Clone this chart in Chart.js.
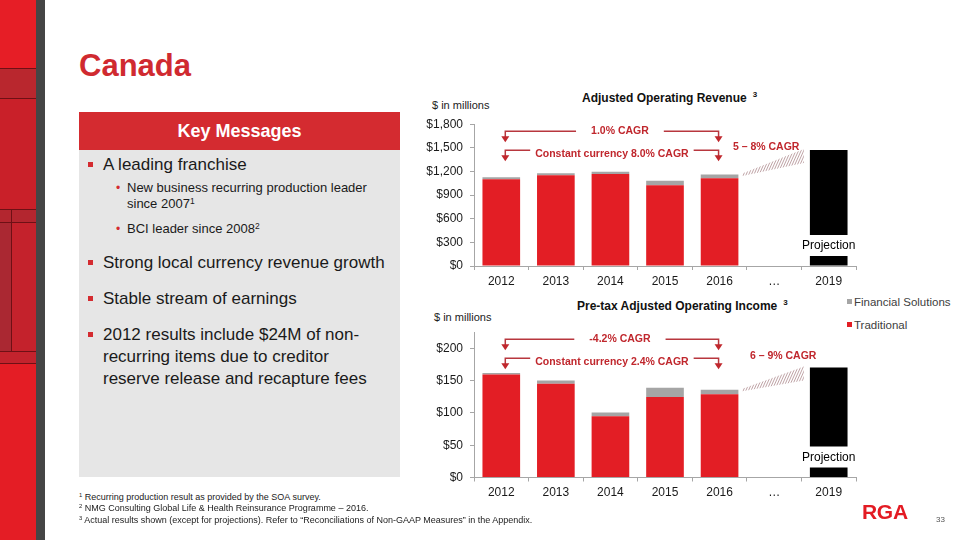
<!DOCTYPE html>
<html>
<head>
<meta charset="utf-8">
<script src="https://cdn.jsdelivr.net/npm/chart.js@4.4.0/dist/chart.umd.min.js"></script>
<style>
  body { margin: 0; background: #fff; font-family: "Liberation Sans", Arial, sans-serif; color: #1a1a1a; }
  #slide { position: relative; width: 960px; height: 540px; overflow: hidden; background: #fff; }
  .abs { position: absolute; white-space: nowrap; }
  .strip { position: absolute; left: 0; width: 36px; }
  .hl { position: absolute; left: 0; width: 36px; height: 1px; background: #6e1015; }
  .bul { position: absolute; left: 88px; width: 5px; height: 5px; background: #d42b30; }
  .main { position: absolute; left: 103px; font-size: 17px; line-height: 22px; white-space: nowrap; }
  .sub { position: absolute; left: 127px; font-size: 13px; line-height: 16px; white-space: nowrap; }
  .dot { position: absolute; left: 116px; color: #d42b30; font-size: 12px; line-height: 16px; }
  .fn { position: absolute; left: 79px; font-size: 9px; line-height: 11px; color: #222; white-space: nowrap; }
  sup { font-size: 0.65em; line-height: 0; vertical-align: 0.45em; }
  canvas { position: absolute; }
  .leg { position: absolute; left: 847px; font-size: 11.5px; line-height: 14px; color: #404040; white-space: nowrap; }
  .leg i { display: inline-block; width: 5px; height: 5px; margin-right: 2px; vertical-align: 2px; }
</style>
</head>
<body>
<div id="slide">
  <!-- left decorative strip -->
  <div class="strip" style="top:0;height:68px;background:#e61e26"></div>
  <div class="strip" style="top:68px;height:30px;background:#b9272e"></div>
  <div class="strip" style="top:98px;height:111px;background:#c92029"></div>
  <div class="strip" style="top:209px;height:13px;background:#b3262f"></div>
  <div class="strip" style="top:222px;height:129px;background:#c4222c"></div>
  <div class="strip" style="top:222px;height:129px;width:12px;background:#aa2832"></div>
  <div class="strip" style="top:351px;height:12px;background:#c3232d"></div>
  <div class="strip" style="top:363px;height:177px;background:#e41d25"></div>
  <div class="hl" style="top:68px"></div>
  <div class="hl" style="top:98px"></div>
  <div class="hl" style="top:209px"></div>
  <div class="hl" style="top:222px"></div>
  <div class="hl" style="top:351px"></div>
  <div class="hl" style="top:363px"></div>
  <div class="abs" style="left:11px;top:209px;width:1px;height:142px;background:#6e1015"></div>
  <div class="abs" style="left:36px;top:0;width:9px;height:540px;background:#454545"></div>

  <div class="abs" style="left:79px;top:48px;font-size:31px;line-height:36px;font-weight:bold;color:#d02a30">Canada</div>

  <!-- key messages panel -->
  <div class="abs" style="left:79px;top:112px;width:321px;height:365px;background:#e6e6e6"></div>
  <div class="abs" style="left:79px;top:112px;width:321px;height:38px;background:#d42b30;color:#fff;font-size:18px;font-weight:bold;line-height:38px;text-align:center">Key Messages</div>

  <div class="bul" style="top:162px"></div>
  <div class="main" style="top:154px">A leading franchise</div>
  <div class="dot" style="top:180px">•</div>
  <div class="sub" style="top:180px">New business recurring production leader<br>since 2007<sup>1</sup></div>
  <div class="dot" style="top:221px">•</div>
  <div class="sub" style="top:221px">BCI leader since 2008<sup>2</sup></div>
  <div class="bul" style="top:260px"></div>
  <div class="main" style="top:252px">Strong local currency revenue growth</div>
  <div class="bul" style="top:296px"></div>
  <div class="main" style="top:288px">Stable stream of earnings</div>
  <div class="bul" style="top:332px"></div>
  <div class="main" style="top:324px">2012 results include $24M of non-<br>recurring items due to creditor<br>reserve release and recapture fees</div>

  <!-- chart titles -->
  <div class="abs" style="left:582px;top:88px;font-size:12px;line-height:14px;font-weight:bold;color:#111">Adjusted Operating Revenue<span style="margin-left:6px;font-size:8px;vertical-align:5px">3</span></div>
  <div class="abs" style="left:432px;top:98px;font-size:11px;line-height:14px;color:#222">$ in millions</div>
  <div class="abs" style="left:577px;top:296px;font-size:12px;line-height:14px;font-weight:bold;color:#111">Pre-tax Adjusted Operating Income<span style="margin-left:6px;font-size:8px;vertical-align:5px">3</span></div>
  <div class="abs" style="left:434px;top:310px;font-size:11px;line-height:14px;color:#222">$ in millions</div>

  <div id="legend"></div>

  <canvas id="revChart" width="470" height="185" style="left:400px;top:110px"></canvas>
  <canvas id="incChart" width="470" height="188" style="left:400px;top:318px"></canvas>

  <!-- footnotes -->
  <div class="fn" style="top:491.5px"><sup>1</sup> Recurring production result as provided by the SOA survey.</div>
  <div class="fn" style="top:503px"><sup>2</sup> NMG Consulting Global Life &amp; Health Reinsurance Programme – 2016.</div>
  <div class="fn" style="top:514.5px"><sup>3</sup> Actual results shown (except for projections). Refer to “Reconciliations of Non-GAAP Measures” in the Appendix.</div>

  <div class="abs" style="left:862px;top:500px;font-size:21px;line-height:24px;font-weight:bold;color:#e31b23;letter-spacing:-0.3px">RGA</div>
  <div class="abs" style="left:936px;top:515px;font-size:8px;line-height:10px;color:#555">33</div>
</div>

<script>
// categories and values ($ millions)
const years = ['2012', '2013', '2014', '2015', '2016', '…', '2019'];
const seriesNames = ['Traditional', 'Financial Solutions', 'Projection'];

const revTraditional = [1100, 1151, 1168, 1024, 1113, null, null];
const revFinancial   = [26, 25, 29, 59, 50, null, null];
const revProjection  = [null, null, null, null, null, null, 1471];

const incTraditional = [159.5, 145, 95, 124.7, 128.8, null, null];
const incFinancial   = [2.5, 5.3, 5.5, 14.3, 7.2, null, null];
const incProjection  = [null, null, null, null, null, null, 170.5];

const revLabels = ['1.0% CAGR', 'Constant currency 8.0% CAGR', '5 – 8% CAGR'];
const incLabels = ['-4.2% CAGR', 'Constant currency 2.4% CAGR', '6 – 9% CAGR'];

const RED = '#e31e25';
const GRAY = '#a5a5a5';
const AXIS = '#a6a6a6';
const DARKRED = '#c0272d';
const FONT = '"Liberation Sans", Arial, sans-serif';

Chart.defaults.font.family = FONT;

// legend (Financial Solutions on top, like the slide)
const legend = document.getElementById('legend');
[[seriesNames[1], GRAY, 295], [seriesNames[0], RED, 318]].forEach(([name, col, top]) => {
  const d = document.createElement('div');
  d.className = 'leg';
  d.style.top = top + 'px';
  d.innerHTML = '<i style="background:' + col + '"></i>' + name;
  legend.appendChild(d);
});

function arrowHead(ctx, x, tip) {
  ctx.beginPath();
  ctx.moveTo(x - 4, tip - 6);
  ctx.lineTo(x + 4, tip - 6);
  ctx.lineTo(x, tip);
  ctx.closePath();
  ctx.fill();
}

function cagrPlugin(note) {
  return {
    id: 'cagr',
    afterDatasetsDraw(chart) {
      const ctx = chart.ctx, area = chart.chartArea, xs = chart.scales.x;
      const finBars = chart.getDatasetMeta(1).data;
      const projBar = chart.getDatasetMeta(2).data[6];
      ctx.save();

      // white gap with "Projection" in the 2019 bar
      ctx.font = '12px ' + FONT;
      const pw = ctx.measureText('Projection').width + 6;
      ctx.fillStyle = '#fff';
      ctx.fillRect(projBar.x - pw / 2, area.bottom - 31, pw, 21);
      ctx.fillStyle = '#000';
      ctx.textAlign = 'center';
      ctx.textBaseline = 'middle';
      ctx.fillText('Projection', projBar.x, area.bottom - 20);

      // hatched wedge from 2016 to the projection
      const b16 = finBars[4];
      const x0 = b16.x + b16.width / 2 + 4, y0 = b16.y;
      const x1 = projBar.x - projBar.width / 2 - 6, y1 = projBar.y;
      ctx.save();
      ctx.beginPath();
      ctx.moveTo(x0, y0 - 1);
      ctx.lineTo(x1, y1 - 1);
      ctx.lineTo(x1, y1 + 13);
      ctx.lineTo(x0, y0 + 1.5);
      ctx.closePath();
      ctx.clip();
      ctx.strokeStyle = '#bfa3a6';
      ctx.lineWidth = 1;
      ctx.beginPath();
      const yMax = y0 + 5, yMin = y1 - 5;
      for (let hx = x0 - 40; hx < x1 + 10; hx += 2.6) {
        ctx.moveTo(hx, yMax);
        ctx.lineTo(hx + (yMax - yMin) * 0.45, yMin);
      }
      ctx.stroke();
      ctx.restore();

      // CAGR arrows over 2012..2016
      const xl = xs.getPixelForValue(0) + 4, xr = xs.getPixelForValue(4) - 1;
      const mid = (xl + xr) / 2;
      ctx.font = 'bold 10.5px ' + FONT;
      ctx.fillStyle = DARKRED;
      ctx.strokeStyle = '#b8373e';
      ctx.lineWidth = 1.5;
      const rows = [
        { text: note.labels[0], ly: area.top + 7, ty: area.top + 7, tip: area.top + 18, dx: 8, gap: 15 },
        { text: note.labels[1], ly: area.top + 26, ty: area.top + 30, tip: area.top + 37, dx: 0, gap: 5 }
      ];
      rows.forEach(r => {
        const w = ctx.measureText(r.text).width;
        const tx = mid + r.dx;
        ctx.fillText(r.text, tx, r.ty);
        ctx.beginPath();
        ctx.moveTo(tx - w / 2 - r.gap, r.ly);
        ctx.lineTo(xl, r.ly);
        ctx.lineTo(xl, r.tip - 5);
        ctx.moveTo(tx + w / 2 + r.gap, r.ly);
        ctx.lineTo(xr, r.ly);
        ctx.lineTo(xr, r.tip - 5);
        ctx.stroke();
        arrowHead(ctx, xl, r.tip);
        arrowHead(ctx, xr, r.tip);
      });

      // projected CAGR label
      ctx.fillText(note.labels[2], xs.getPixelForValue(5) + note.projDx, projBar.y + note.projDy);
      ctx.restore();
    }
  };
}

function makeChart(id, trad, fin, proj, maxY, step, fmt, note) {
  return new Chart(document.getElementById(id), {
    type: 'bar',
    data: {
      labels: years,
      datasets: [
        { label: seriesNames[0], data: trad, backgroundColor: RED },
        { label: seriesNames[1], data: fin, backgroundColor: GRAY },
        { label: seriesNames[2], data: proj, backgroundColor: '#000' }
      ]
    },
    options: {
      responsive: false,
      animation: false,
      layout: { padding: { top: note.padTop, right: 14, left: 0, bottom: 0 } },
      datasets: { bar: { categoryPercentage: 1, barPercentage: 0.69 } },
      plugins: { legend: { display: false }, tooltip: { enabled: false } },
      scales: {
        x: {
          stacked: true,
          grid: { display: true, drawOnChartArea: false, offset: true, tickLength: 4, color: AXIS },
          border: { color: AXIS },
          ticks: { color: '#1a1a1a', font: { size: 12 }, padding: 4, maxRotation: 0 },
          afterFit: s => { s.height = note.xH; }
        },
        y: {
          stacked: true,
          min: 0,
          max: maxY,
          ticks: {
            stepSize: step,
            color: '#1a1a1a',
            font: { size: 12 },
            padding: 7,
            callback: v => (v % step === 0 ? fmt(v) : '')
          },
          grid: {
            display: true, drawOnChartArea: false, tickLength: 4,
            color: c => (c.tick && c.tick.value % step === 0 ? AXIS : 'rgba(0,0,0,0)')
          },
          border: { color: AXIS },
          afterFit: s => { s.width = 74; }
        }
      }
    },
    plugins: [cagrPlugin(note)]
  });
}

const money = v => '$' + v.toLocaleString('en-US');

makeChart('revChart', revTraditional, revFinancial, revProjection, 1800, 300, money,
  { labels: revLabels, padTop: 14, xH: 29, projDx: -8, projDy: -3 });
makeChart('incChart', incTraditional, incFinancial, incProjection, 225, 50, money,
  { labels: incLabels, padTop: 13, xH: 28.5, projDx: 9, projDy: -11 });
</script>
</body>
</html>
